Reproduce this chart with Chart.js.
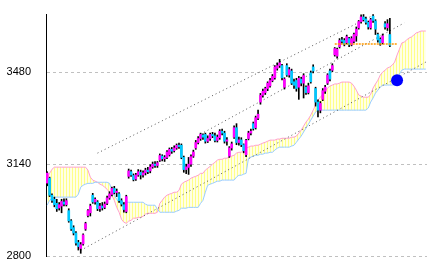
<!DOCTYPE html>
<html>
<head>
<meta charset="utf-8">
<script src="https://cdn.jsdelivr.net/npm/chart.js@4.4.1/dist/chart.umd.min.js"></script>
<style>
  html, body { margin: 0; padding: 0; background: #fff; }
  #chart { display: block; }
</style>
</head>
<body>
<canvas id="chart" width="433" height="270"></canvas>
<script>
// daily candles (one value per session)
const opens = [
  3070, 3088, 3025, 3010, 2995, 2978, 2985, 3000, 2990, 2968,
  2930, 2905, 2885, 2850, 2828, 2845, 2900, 2950, 2960, 3025,
  3000, 3000, 2975, 2985, 2980, 2995, 3015, 3028, 3050, 3035,
  3030, 3005, 2990, 2965, 3095, 3112, 3098, 3085, 3100, 3110,
  3100, 3108, 3118, 3115, 3130, 3140, 3135, 3155, 3170, 3160,
  3165, 3175, 3195, 3190, 3200, 3210, 3210, 3165, 3120, 3128,
  3140, 3170, 3200, 3220, 3235, 3248, 3250, 3225, 3235, 3250,
  3245, 3228, 3238, 3262, 3255, 3225, 3170, 3200, 3240, 3275,
  3220, 3230, 3212, 3175, 3235, 3255, 3290, 3275, 3310, 3370,
  3395, 3405, 3420, 3430, 3450, 3460, 3495, 3505, 3505, 3425,
  3505, 3470, 3485, 3445, 3450, 3425, 3455, 3440, 3425, 3405,
  3478, 3500, 3420, 3370, 3340, 3380, 3410, 3440, 3485, 3488,
  3545, 3540, 3575, 3600, 3598, 3590, 3605, 3582, 3595, 3615,
  3645, 3668, 3685, 3678, 3665, 3645, 3688, 3670, 3620, 3602,
  3590, 3660, 3645, 3620
];
const highs = [
  3112, 3092, 3030, 3018, 3010, 2998, 3010, 3012, 3012, 2975,
  2935, 2912, 2890, 2858, 2850, 2882, 2925, 2972, 2992, 3032,
  3015, 3005, 2995, 2998, 3000, 3022, 3038, 3055, 3058, 3048,
  3035, 3012, 2998, 3025, 3122, 3118, 3104, 3106, 3120, 3118,
  3115, 3125, 3128, 3138, 3148, 3150, 3150, 3178, 3175, 3172,
  3190, 3200, 3202, 3208, 3215, 3218, 3215, 3170, 3140, 3165,
  3175, 3192, 3228, 3242, 3255, 3252, 3255, 3245, 3255, 3258,
  3255, 3248, 3268, 3270, 3262, 3238, 3205, 3222, 3282, 3290,
  3240, 3238, 3215, 3232, 3262, 3270, 3296, 3318, 3340, 3402,
  3418, 3425, 3445, 3458, 3472, 3505, 3515, 3528, 3510, 3460,
  3512, 3498, 3492, 3455, 3458, 3465, 3462, 3475, 3430, 3440,
  3485, 3508, 3425, 3378, 3372, 3420, 3432, 3475, 3492, 3512,
  3572, 3570, 3605, 3610, 3605, 3618, 3610, 3612, 3625, 3648,
  3672, 3693, 3694, 3685, 3670, 3680, 3694, 3675, 3625, 3608,
  3622, 3668, 3675, 3680
];
const lows = [
  3060, 3020, 2998, 2982, 2965, 2970, 2960, 2985, 2985, 2925,
  2895, 2878, 2840, 2822, 2810, 2840, 2895, 2945, 2948, 2995,
  2992, 2968, 2965, 2970, 2975, 2990, 3010, 3022, 3030, 3020,
  2998, 2985, 2962, 2960, 3088, 3095, 3078, 3080, 3095, 3085,
  3092, 3100, 3105, 3108, 3125, 3128, 3128, 3150, 3152, 3150,
  3160, 3170, 3180, 3185, 3195, 3198, 3160, 3110, 3105, 3102,
  3132, 3165, 3195, 3215, 3228, 3232, 3218, 3220, 3228, 3238,
  3222, 3222, 3232, 3248, 3218, 3210, 3165, 3192, 3235, 3212,
  3210, 3205, 3182, 3168, 3230, 3248, 3266, 3270, 3305, 3362,
  3388, 3398, 3412, 3425, 3445, 3455, 3488, 3498, 3452, 3418,
  3465, 3462, 3435, 3420, 3410, 3380, 3430, 3385, 3398, 3400,
  3440, 3478, 3355, 3315, 3330, 3375, 3402, 3435, 3448, 3482,
  3540, 3532, 3570, 3588, 3578, 3585, 3575, 3578, 3590, 3595,
  3640, 3662, 3670, 3658, 3640, 3640, 3665, 3620, 3592, 3580,
  3585, 3640, 3635, 3575
];
const closes = [
  3107, 3025, 3006, 2990, 2975, 2990, 3002, 2992, 3005, 2930,
  2900, 2885, 2848, 2835, 2842, 2878, 2920, 2968, 2985, 3000,
  3010, 2975, 2985, 2978, 2992, 3015, 3030, 3050, 3035, 3040,
  3005, 2992, 2972, 3020, 3115, 3100, 3083, 3100, 3112, 3100,
  3108, 3118, 3112, 3130, 3140, 3135, 3145, 3172, 3160, 3165,
  3185, 3195, 3188, 3200, 3210, 3205, 3165, 3120, 3130, 3140,
  3168, 3185, 3220, 3235, 3250, 3240, 3225, 3235, 3250, 3245,
  3228, 3240, 3262, 3255, 3225, 3230, 3200, 3215, 3275, 3220,
  3230, 3212, 3190, 3228, 3255, 3262, 3272, 3312, 3325, 3395,
  3410, 3420, 3440, 3450, 3465, 3500, 3505, 3515, 3460, 3455,
  3470, 3490, 3440, 3432, 3420, 3458, 3440, 3468, 3405, 3430,
  3445, 3485, 3370, 3340, 3365, 3412, 3425, 3470, 3455, 3505,
  3568, 3565, 3598, 3595, 3585, 3612, 3582, 3605, 3620, 3640,
  3668, 3685, 3675, 3665, 3648, 3675, 3672, 3640, 3600, 3588,
  3615, 3648, 3660, 3580
];

// ichimoku cloud edges, already shifted forward
const spanA = [
  3088, 3106, 3121, 3129, 3129, 3129, 3129, 3129, 3129, 3129,
  3129, 3129, 3129, 3129, 3129, 3129, 3129, 3118, 3092, 3081,
  3077, 3073, 3066, 3062, 3055, 3047, 3036, 3025, 3006, 2980,
  2962, 2936, 2925, 2921, 2929, 2932, 2940, 2940, 2943, 2943,
  2947, 2955, 2958, 2958, 2958, 2958, 2962, 2995, 3006, 3018,
  3025, 3029, 3032, 3036, 3036, 3043, 3066, 3073, 3077, 3081,
  3088, 3092, 3095, 3099, 3106, 3106, 3118, 3125, 3132, 3140,
  3147, 3155, 3158, 3158, 3162, 3162, 3166, 3170, 3173, 3181,
  3184, 3184, 3192, 3199, 3203, 3207, 3207, 3210, 3210, 3214,
  3218, 3221, 3225, 3229, 3229, 3229, 3233, 3233, 3236, 3236,
  3236, 3236, 3240, 3240, 3244, 3255, 3266, 3281, 3296, 3307,
  3322, 3340, 3359, 3377, 3388, 3399, 3411, 3422, 3429, 3433,
  3437, 3437, 3440, 3444, 3444, 3444, 3444, 3440, 3429, 3414,
  3396, 3392, 3388, 3388, 3388, 3399, 3422, 3437, 3451, 3470,
  3481, 3488, 3496, 3500, 3507, 3518, 3544, 3566, 3589, 3592,
  3600, 3607, 3611, 3618, 3626, 3629, 3633, 3633, 3633
];
const spanB = [
  2988, 3006, 3014, 3018, 3018, 3018, 3018, 3018, 3018, 3018,
  3018, 3018, 3018, 3029, 3055, 3062, 3066, 3069, 3069, 3069,
  3073, 3073, 3073, 3073, 3073, 3073, 3069, 3043, 3025, 3010,
  2999, 2999, 2999, 2999, 2999, 2999, 2999, 2999, 2999, 2999,
  2999, 2992, 2988, 2988, 2988, 2988, 2973, 2962, 2962, 2962,
  2962, 2962, 2962, 2962, 2966, 2969, 2977, 2977, 2977, 2980,
  2980, 2980, 2980, 2980, 2995, 3006, 3036, 3062, 3066, 3069,
  3073, 3077, 3077, 3081, 3081, 3081, 3081, 3081, 3081, 3092,
  3099, 3099, 3103, 3106, 3162, 3166, 3170, 3173, 3173, 3177,
  3177, 3181, 3181, 3184, 3184, 3192, 3199, 3203, 3203, 3203,
  3203, 3203, 3207, 3210, 3221, 3233, 3244, 3259, 3273, 3288,
  3303, 3318, 3333, 3340, 3340, 3340, 3340, 3340, 3340, 3340,
  3340, 3340, 3340, 3340, 3340, 3340, 3340, 3340, 3340, 3340,
  3340, 3340, 3340, 3340, 3348, 3370, 3385, 3403, 3414, 3425,
  3433, 3433, 3433, 3433, 3433, 3433, 3437, 3474, 3488, 3492,
  3492, 3492, 3492, 3492, 3492, 3492, 3492, 3492, 3492
];

const yTicks = [2800, 3140, 3480];

// trend channel: [index, value] at each end
const channelUpper = [[21, 3181], [136, 3691]];
const channelMid = [[64, 3251], [149, 3663]];
const channelLower = [[14, 2821], [158, 3518]];
const resistance = [[120, 3585], [146, 3585]];
const marker = [146, 3451];

const N = spanA.length;
const labels = Array.from({ length: N }, (_, i) => String(i));

function segment(pts) {
  const arr = new Array(N).fill(null);
  pts.forEach(([i, v]) => { arr[i] = v; });
  return arr;
}

const canvas = document.getElementById('chart');
const ctx = canvas.getContext('2d');

// striped yellow fill for the cloud
const pc = document.createElement('canvas');
pc.width = 3; pc.height = 1;
const pctx = pc.getContext('2d');
pctx.fillStyle = '#ffffe6';
pctx.fillRect(0, 0, 3, 1);
pctx.fillStyle = '#ffff88';
pctx.fillRect(0, 0, 1, 1);
const stripes = ctx.createPattern(pc, 'repeat');

const bodyColors = opens.map((o, i) => closes[i] >= o ? '#ff00ff' : '#00c8ff');

const trendStyle = {
  type: 'line', borderColor: '#555555', borderWidth: 1, borderDash: [1, 3],
  pointRadius: 0, spanGaps: true, fill: false, order: 3
};

new Chart(ctx, {
  type: 'bar',
  data: {
    labels,
    datasets: [
      {
        type: 'line', data: spanA, borderColor: '#ff9fcc', borderWidth: 1,
        pointRadius: 0, fill: '+1', backgroundColor: stripes, order: 6
      },
      {
        type: 'line', data: spanB, borderColor: '#99ccff', borderWidth: 1,
        pointRadius: 0, fill: false, order: 5
      },
      Object.assign({ data: segment(channelUpper) }, trendStyle),
      Object.assign({ data: segment(channelMid) }, trendStyle),
      Object.assign({ data: segment(channelLower) }, trendStyle),
      {
        data: highs.map((h, i) => [lows[i], h]),
        backgroundColor: '#000000', barThickness: 1, grouped: false, order: 2
      },
      {
        data: opens.map((o, i) => [o, closes[i]]),
        backgroundColor: bodyColors, barThickness: 2, minBarLength: 1,
        grouped: false, order: 1
      },
      {
        type: 'line', data: segment(resistance), borderColor: '#ff9900',
        borderWidth: 1.5, borderDash: [2, 1], pointRadius: 0, spanGaps: true,
        fill: false, order: 0
      },
      {
        type: 'line', data: segment([marker]), showLine: false,
        pointRadius: 6, pointBackgroundColor: '#0000ff', pointBorderWidth: 0,
        order: -1
      }
    ]
  },
  options: {
    responsive: false,
    animation: false,
    layout: { padding: { left: 0, top: 14, right: 6, bottom: 14 } },
    plugins: { legend: { display: false }, tooltip: { enabled: false } },
    scales: {
      x: { type: 'category', display: false, offset: true },
      y: {
        min: 2800,
        max: 3696,
        afterBuildTicks: s => { s.ticks = yTicks.map(v => ({ value: v })); },
        afterFit: s => { s.width = 46; },
        ticks: {
          padding: 1, color: '#000',
          font: { family: 'Liberation Sans', size: 11 },
          callback: v => String(v)
        },
        grid: {
          color: '#c0c0c0', lineWidth: 1,
          drawTicks: true, tickLength: 14, tickColor: 'rgba(0,0,0,0)'
        },
        border: { display: true, color: '#000', width: 1, dash: [3, 3] }
      }
    }
  }
});
</script>
</body>
</html>
